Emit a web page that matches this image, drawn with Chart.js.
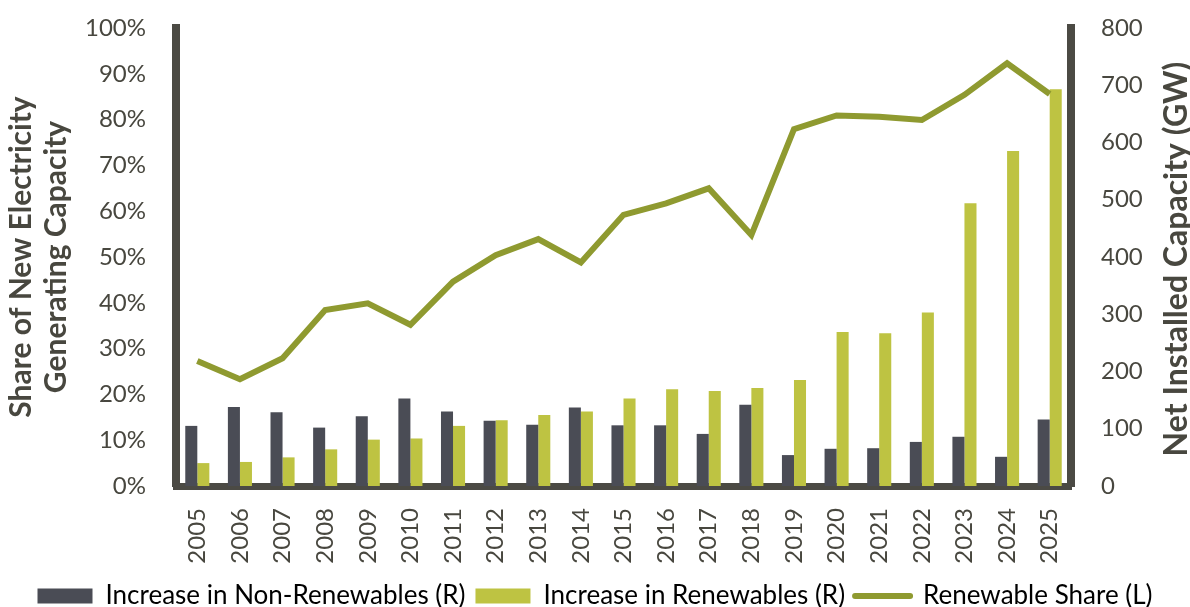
<!DOCTYPE html>
<html>
<head>
<meta charset="utf-8">
<script src="https://cdn.jsdelivr.net/npm/chart.js@4.4.1/dist/chart.umd.min.js"></script>
<style>
  html, body { margin: 0; padding: 0; background: #fff; }
</style>
</head>
<body>
<canvas id="chart" width="1190" height="607"></canvas>
<script>
// data
const years = ["2005", "2006", "2007", "2008", "2009", "2010", "2011", "2012", "2013", "2014", "2015",
               "2016", "2017", "2018", "2019", "2020", "2021", "2022", "2023", "2024", "2025"];
const nonRenewablesGW = [105, 138, 129, 102, 122, 153, 130, 114, 107, 137, 106,
                         106, 91, 142, 54, 65, 66, 77, 86, 51, 116];
const renewablesGW = [40, 42, 50, 64, 81, 83, 105, 115, 124, 130, 153,
                      169, 166, 171, 185, 269, 267, 303, 494, 585, 693];
const renewableShare = [27.3, 23.3, 27.9, 38.4, 39.9, 35.2, 44.6, 50.4, 53.9, 48.8, 59.2,
                        61.7, 65.0, 54.8, 77.9, 80.9, 80.6, 79.9, 85.4, 92.3, 85.6];

const leftTitle = ["Share of New Electricity", "Generating Capacity"];
const rightTitleText = "Net Installed Capacity (GW)";
const legendLabels = ["Increase in Non-Renewables (R)", "Increase in Renewables (R)", "Renewable Share (L)"];

const textColor = "#48473f";
const axisColor = "#4b4a44";
const darkBar = "#4a4c55";
const greenBar = "#bec342";
const lineColor = "#8f9a30";
const fontFamily = "Lato, 'Open Sans', sans-serif";

// right axis title reads bottom-to-top, so draw it ourselves
const rightTitle = {
    id: "rightTitle",
    afterDraw(chart) {
        const ctx = chart.ctx;
        const area = chart.chartArea;
        ctx.save();
        ctx.translate(1177, (area.top + area.bottom) / 2 + 2);
        ctx.rotate(-Math.PI / 2);
        ctx.font = "bold 32px " + fontFamily;
        ctx.fillStyle = textColor;
        ctx.textAlign = "center";
        ctx.textBaseline = "middle";
        ctx.fillText(rightTitleText, 0, 0);
        ctx.restore();
    }
};

// keep the tick labels from pushing the plot area down
const noVertPad = (scale, width) => {
    scale.width = width;
    scale.paddingTop = 0;
    scale.paddingBottom = 0;
};

const ctx = document.getElementById("chart").getContext("2d");
new Chart(ctx, {
    data: {
        labels: years,
        datasets: [
            {
                type: "line",
                label: legendLabels[2],
                data: renewableShare,
                yAxisID: "y",
                borderColor: lineColor,
                borderWidth: 6,
                pointRadius: 0,
                tension: 0,
                order: 0
            },
            {
                type: "bar",
                label: legendLabels[0],
                data: nonRenewablesGW,
                yAxisID: "y1",
                backgroundColor: darkBar,
                categoryPercentage: 0.565,
                barPercentage: 1,
                order: 1
            },
            {
                type: "bar",
                label: legendLabels[1],
                data: renewablesGW,
                yAxisID: "y1",
                backgroundColor: greenBar,
                categoryPercentage: 0.565,
                barPercentage: 1,
                order: 1
            }
        ]
    },
    options: {
        responsive: false,
        animation: false,
        layout: { padding: { top: 28, left: 0, right: 0, bottom: -12 } },
        plugins: {
            tooltip: { enabled: false },
            legend: {
                position: "bottom",
                labels: {
                    usePointStyle: true,
                    pointStyleWidth: 55,
                    boxHeight: 15,
                    padding: 10,
                    color: textColor,
                    font: { family: fontFamily, size: 26 },
                    generateLabels: () => [
                        { text: legendLabels[0], fillStyle: darkBar, strokeStyle: darkBar, lineWidth: 0, pointStyle: "rect", datasetIndex: 1 },
                        { text: legendLabels[1], fillStyle: greenBar, strokeStyle: greenBar, lineWidth: 0, pointStyle: "rect", datasetIndex: 2 },
                        { text: legendLabels[2], fillStyle: lineColor, strokeStyle: lineColor, lineWidth: 6, lineCap: "round", pointStyle: "line", datasetIndex: 0 }
                    ]
                }
            }
        },
        scales: {
            x: {
                grid: { display: false },
                border: { display: true, width: 7, color: axisColor },
                ticks: {
                    color: textColor,
                    font: { family: fontFamily, size: 24 },
                    maxRotation: 90,
                    minRotation: 90,
                    padding: 14
                },
                afterFit: (scale) => { scale.height = 87; }
            },
            y: {
                position: "left",
                min: 0,
                max: 100,
                grid: { display: false },
                border: { display: true, width: 8, color: axisColor },
                ticks: {
                    stepSize: 10,
                    color: textColor,
                    font: { family: fontFamily, size: 24 },
                    padding: 22,
                    callback: (v) => v + "%"
                },
                title: {
                    display: true,
                    text: leftTitle,
                    color: textColor,
                    font: { family: fontFamily, size: 30, weight: "bold", lineHeight: 1.17 },
                    padding: { top: 4, bottom: 0 }
                },
                afterFit: (scale) => noVertPad(scale, 176)
            },
            y1: {
                position: "right",
                min: 0,
                max: 800,
                grid: { display: false },
                border: { display: true, width: 8, color: axisColor },
                ticks: {
                    stepSize: 100,
                    color: textColor,
                    font: { family: fontFamily, size: 24 },
                    padding: 22
                },
                afterFit: (scale) => noVertPad(scale, 119)
            }
        }
    },
    plugins: [rightTitle]
});
</script>
</body>
</html>
